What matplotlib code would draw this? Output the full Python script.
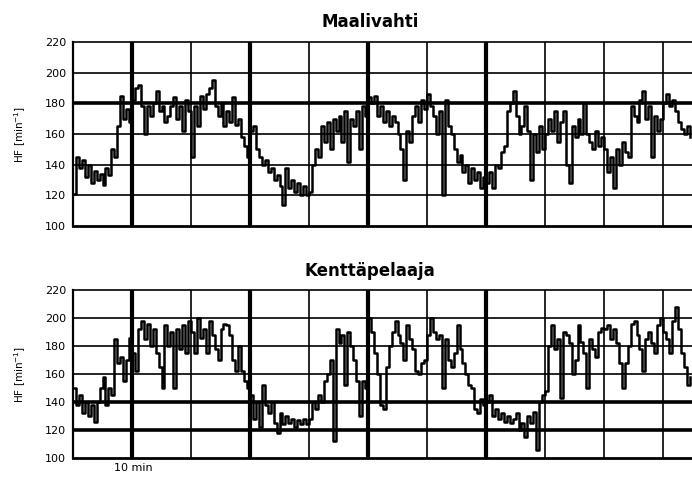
import matplotlib
matplotlib.use("Agg")
import matplotlib.pyplot as plt
import numpy as np

# heart rate samples, one every 0.25 min
maalivahti_hr = [
    121, 145, 138, 143, 132, 140, 128, 136, 130, 134, 127, 138, 133, 150, 145, 165, 185, 170, 176, 168,
    182, 190, 192, 178, 160, 178, 172, 180, 188, 175, 178, 168, 172, 178, 184, 170, 178, 162, 182, 175,
    145, 178, 165, 185, 176, 186, 190, 195, 178, 172, 180, 165, 175, 168, 184, 166, 170, 158, 152, 145,
    162, 165, 150, 145, 140, 143, 135, 138, 130, 133, 126, 114, 138, 125, 130, 122, 128, 120, 126, 120,
    122, 140, 150, 145, 165, 155, 168, 150, 170, 162, 172, 155, 175, 142, 170, 165, 175, 150, 178, 172,
    184, 180, 185, 172, 178, 168, 175, 165, 172, 168, 160, 150, 130, 162, 155, 172, 178, 168, 182, 176,
    186, 178, 172, 160, 175, 120, 182, 165, 160, 150, 142, 146, 135, 140, 128, 138, 130, 135, 125, 132,
    128, 135, 125, 140, 138, 148, 152, 175, 180, 188, 172, 160, 165, 178, 162, 130, 160, 148, 165, 150,
    160, 170, 162, 175, 155, 168, 175, 140, 128, 165, 158, 170, 160, 180, 160, 155, 150, 162, 152, 158,
    150, 135, 145, 125, 150, 140, 155, 148, 145, 178, 172, 168, 182, 188, 170, 178, 145, 172, 162, 170,
    180, 186, 178, 182, 175, 168, 163, 160, 165, 158,
]
kenttapelaaja_hr = [
    150, 138, 145, 132, 140, 130, 138, 126, 140, 150, 158, 138, 150, 145, 185, 168, 172, 155, 170, 186,
    175, 162, 192, 198, 185, 196, 180, 192, 175, 165, 150, 195, 180, 190, 150, 192, 178, 195, 175, 198,
    190, 175, 200, 186, 192, 175, 198, 188, 178, 170, 192, 196, 195, 188, 170, 162, 180, 162, 155, 150,
    145, 128, 140, 122, 152, 138, 132, 140, 125, 118, 132, 124, 130, 125, 128, 122, 127, 124, 128, 124,
    128, 140, 135, 145, 140, 155, 160, 170, 112, 192, 182, 188, 152, 190, 180, 170, 155, 130, 155, 150,
    200, 190, 175, 160, 138, 135, 165, 180, 190, 198, 188, 182, 170, 195, 185, 178, 162, 160, 168, 170,
    188, 200, 190, 185, 188, 150, 185, 170, 165, 175, 195, 178, 168, 160, 152, 150, 135, 132, 142, 138,
    140, 145, 130, 135, 128, 132, 126, 130, 125, 128, 132, 120, 125, 115, 130, 125, 133, 106, 140, 145,
    148, 180, 195, 178, 185, 143, 190, 188, 182, 160, 170, 195, 183, 175, 150, 185, 178, 172, 190, 193,
    192, 195, 185, 192, 182, 168, 150, 168, 180, 196, 198, 188, 178, 162, 185, 190, 182, 175, 195, 200,
    190, 185, 175, 198, 208, 192, 175, 165, 152, 158,
]
titles = ["Maalivahti", "Kenttäpelaaja"]
y_ticks = [100, 120, 140, 160, 180, 200, 220]
v_lines = [5, 10, 15, 20, 25, 30, 35, 40, 45, 50]
thick_v = [5, 15, 25, 35]
thick_h = [[180], [120, 140]]

step = 0.25
fig = plt.figure(figsize=(6.92, 4.80), dpi=100)

rects = [[73 / 692, 1 - 226 / 480, 619 / 692, 184 / 480],
         [73 / 692, 1 - 458 / 480, 619 / 692, 168 / 480]]
title_y = [1 - 22 / 480, 1 - 271 / 480]

for i, hr in enumerate([maalivahti_hr, kenttapelaaja_hr]):
    ax = fig.add_axes(rects[i])
    t = np.arange(len(hr)) * step
    ax.plot(t, hr, color="black", lw=1.8, drawstyle="steps-post", zorder=3)

    for y in y_ticks[1:-1]:
        ax.axhline(y, color="black", lw=2.6 if y in thick_h[i] else 1.2, zorder=1)
    for x in v_lines:
        ax.axvline(x, color="black", lw=3.0 if x in thick_v else 1.2, zorder=1)

    ax.set_xlim(0, 52.45)
    ax.set_ylim(100, 220)
    ax.set_yticks(y_ticks)
    ax.set_xticks([])
    ax.tick_params(axis="y", length=0, pad=5, labelsize=8)
    ax.spines["top"].set_linewidth(1.2)
    ax.spines["left"].set_linewidth(1.6)
    ax.spines["bottom"].set_linewidth(2.0)
    ax.spines["right"].set_visible(False)

    ax.set_ylabel("HF [min$^{-1}$]", fontsize=7.5)
    ax.yaxis.set_label_coords(-0.072, 0.5)

    fig.text(370 / 692, title_y[i], titles[i], ha="center", va="center",
             fontsize=12, fontweight="bold")

fig.text(133 / 692, 1 - 468 / 480, "10 min", ha="center", va="center", fontsize=8)

fig.savefig("out.png", dpi=100)
